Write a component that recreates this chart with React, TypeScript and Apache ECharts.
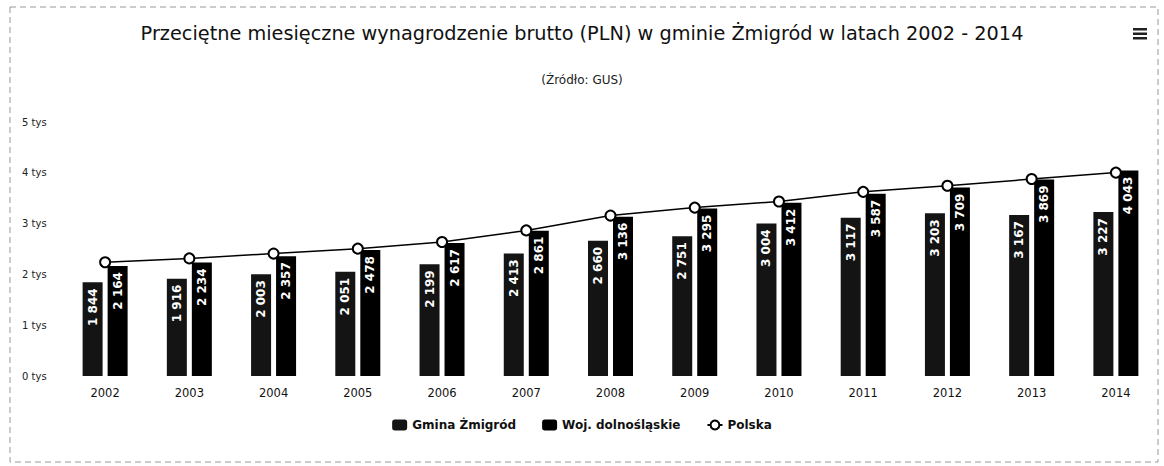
import React, { useEffect, useRef } from "react";
import * as echarts from "echarts";

const years = ["2002", "2003", "2004", "2005", "2006", "2007", "2008", "2009", "2010", "2011", "2012", "2013", "2014"];
const gmina = [1844, 1916, 2003, 2051, 2199, 2413, 2660, 2751, 3004, 3117, 3203, 3167, 3227];
const woj = [2164, 2234, 2357, 2478, 2617, 2861, 3136, 3295, 3412, 3587, 3709, 3869, 4043];
const polska = [2240, 2315, 2410, 2507, 2637, 2866, 3158, 3315, 3435, 3625, 3744, 3877, 4004];

const FONT = "'DejaVu Sans', Verdana, sans-serif";

const fmt = (v: number) => {
  const s = String(Math.round(v));
  return s.length > 3 ? s.slice(0, s.length - 3) + " " + s.slice(-3) : s;
};

export default function App() {
  const ref = useRef<HTMLDivElement>(null);
  useEffect(() => {
    const chart = echarts.init(ref.current!, null, { renderer: "svg" });
    const barLabel = {
      show: true,
      position: "insideTop",
      rotate: 90,
      align: "right",
      verticalAlign: "middle",
      distance: 6,
      color: "#fff",
      fontFamily: FONT,
      fontWeight: "bold",
      fontSize: 12,
      formatter: (p: any) => fmt(p.value),
    };
    chart.setOption({
      animation: false,
      backgroundColor: "#fff",
      title: [
        {
          text: "Przeciętne miesięczne wynagrodzenie brutto (PLN) w gminie Żmigród w latach 2002 - 2014",
          left: "center",
          top: 19,
          textStyle: { fontFamily: FONT, fontSize: 19.3, fontWeight: "normal", color: "#111" },
        },
        {
          text: "(Źródło: GUS)",
          left: "center",
          top: 69,
          textStyle: { fontFamily: FONT, fontSize: 12, fontWeight: "normal", color: "#222" },
        },
      ],
      legend: {
        bottom: 30,
        left: "center",
        itemWidth: 15,
        itemHeight: 11,
        itemGap: 26,
        textStyle: { fontFamily: FONT, fontSize: 12, fontWeight: "bold", color: "#111" },
        data: ["Gmina Żmigród", "Woj. dolnośląskie", "Polska"],
      },
      grid: { left: 63, right: 6, top: 122, bottom: 90 },
      xAxis: {
        type: "category",
        data: years,
        axisLine: { show: false },
        axisTick: { show: false },
        axisLabel: { fontFamily: FONT, fontSize: 11.5, color: "#111", margin: 11 },
      },
      yAxis: {
        type: "value",
        min: 0,
        max: 5000,
        interval: 1000,
        splitLine: { show: false },
        axisLine: { show: false },
        axisTick: { show: false },
        axisLabel: {
          align: "left",
          margin: 41,
          fontFamily: FONT,
          fontSize: 10,
          color: "#222",
          formatter: (v: number) => v / 1000 + " tys",
        },
      },
      series: [
        {
          name: "Gmina Żmigród",
          type: "bar",
          data: gmina,
          barWidth: 20,
          barGap: "25%",
          itemStyle: { color: "#141414" },
          label: barLabel,
        },
        {
          name: "Woj. dolnośląskie",
          type: "bar",
          data: woj,
          barWidth: 20,
          itemStyle: { color: "#000" },
          label: barLabel,
        },
        {
          name: "Polska",
          type: "line",
          data: polska,
          z: 5,
          symbol: "circle",
          symbolSize: 10,
          lineStyle: { color: "#000", width: 1.5 },
          itemStyle: { color: "#fff", borderColor: "#000", borderWidth: 2 },
        },
      ],
      graphic: [
        {
          type: "rect",
          shape: { x: 10, y: 7, width: 1148, height: 455 },
          style: { fill: "none", stroke: "#999", lineWidth: 1, lineDash: [6, 4] },
          silent: true,
        },
        { type: "rect", shape: { x: 1133, y: 28, width: 14, height: 2.5 }, style: { fill: "#222" } },
        { type: "rect", shape: { x: 1133, y: 32.5, width: 14, height: 2.5 }, style: { fill: "#222" } },
        { type: "rect", shape: { x: 1133, y: 37, width: 14, height: 2.5 }, style: { fill: "#222" } },
      ],
    });
    return () => chart.dispose();
  }, []);
  return (
    <div
      ref={ref}
      style={{ position: "absolute", left: 0, top: 0, width: 1164, height: 466 }}
    />
  );
}
